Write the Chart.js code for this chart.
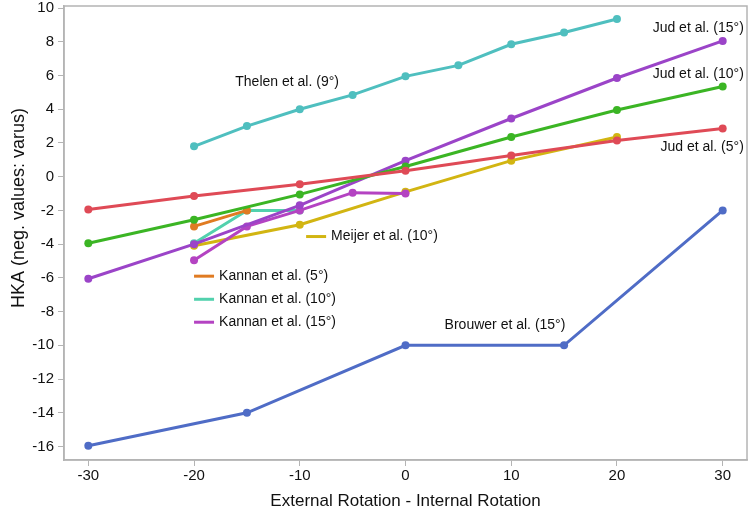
<!DOCTYPE html>
<html>
<head>
<meta charset="utf-8">
<script src="https://cdn.jsdelivr.net/npm/chart.js@4.4.1/dist/chart.umd.min.js"></script>
<style>
  html, body { margin: 0; padding: 0; background: #fff; }
  #wrap { width: 751px; height: 512px; }
</style>
</head>
<body>
<div id="wrap"><canvas id="hka"></canvas></div>
<script>
// ===== HKA vs rotation =====
var thelenX = [-20, -15, -10, -5, 0, 5, 10, 15, 20];
var thelenY = [1.8, 3.0, 4.0, 4.85, 5.95, 6.6, 7.85, 8.55, 9.35];
var judX    = [-30, -20, -10, 0, 10, 20, 30];
var jud15Y  = [-6.05, -4.0, -1.7, 0.95, 3.45, 5.85, 8.05];
var jud10Y  = [-3.95, -2.55, -1.05, 0.6, 2.35, 3.95, 5.35];
var jud5Y   = [-1.95, -1.15, -0.45, 0.35, 1.25, 2.15, 2.85];
var meijerX = [-20, -10, 0, 10, 20];
var meijerY = [-4.1, -2.85, -0.9, 0.95, 2.35];
var kan5X   = [-20, -15];
var kan5Y   = [-2.95, -2.0];
var kan10X  = [-20, -15, -10];
var kan10Y  = [-3.95, -2.0, -2.0];
var kan15X  = [-20, -15, -10, -5, 0];
var kan15Y  = [-4.95, -2.95, -2.0, -0.95, -1.0];
var brouwerX = [-30, -15, 0, 15, 30];
var brouwerY = [-15.95, -14.0, -10.0, -10.0, -2.0];
var xTicks = [-30, -20, -10, 0, 10, 20, 30];
var yTicks = [-16, -14, -12, -10, -8, -6, -4, -2, 0, 2, 4, 6, 8, 10];

function pts(xs, ys) { return xs.map(function(x, i) { return { x: x, y: ys[i] }; }); }
function series(label, xs, ys, color) {
  return { label: label, data: pts(xs, ys), borderColor: color, backgroundColor: color,
    borderWidth: 3, pointRadius: 4, pointHoverRadius: 4, pointBorderWidth: 0, tension: 0, fill: false };
}

var FONT = "'Liberation Sans', Arial, Helvetica, sans-serif";

// text labels in data units; swatch = draw a short line before the text
var notes = [
  { text: 'Thelen et al. (9°)',   x: -16.1, y: 5.6,  align: 'left' },
  { text: 'Jud et al. (15°)',     x: 32.0,  y: 8.8,  align: 'right' },
  { text: 'Jud et al. (10°)',     x: 32.0,  y: 6.1,  align: 'right' },
  { text: 'Jud et al. (5°)',      x: 32.0,  y: 1.75, align: 'right' },
  { text: 'Brouwer et al. (15°)', x: 3.7,   y: -8.8, align: 'left' },
  { text: 'Meijer et al. (10°)',  x: -9.4,  y: -3.55, align: 'left', swatch: '#d2b512' },
  { text: 'Kannan et al. (5°)',   x: -20.0, y: -5.9, align: 'left', swatch: '#e07b22' },
  { text: 'Kannan et al. (10°)',  x: -20.0, y: -7.27, align: 'left', swatch: '#52d1ad' },
  { text: 'Kannan et al. (15°)',  x: -20.0, y: -8.63, align: 'left', swatch: '#b443c2' }
];

var notesPlugin = {
  id: 'notes',
  afterDatasetsDraw: function(chart) {
    var c = chart.ctx, xs = chart.scales.x, ys = chart.scales.y, a = chart.chartArea;
    c.save();
    // frame round the plot
    c.strokeStyle = '#b4b4b4'; c.lineWidth = 1.5;
    c.strokeRect(a.left, a.top, a.right - a.left, a.bottom - a.top);
    c.font = '14px ' + FONT; c.fillStyle = '#111'; c.textBaseline = 'middle';
    notes.forEach(function(n) {
      var px = xs.getPixelForValue(n.x), py = ys.getPixelForValue(n.y);
      if (n.swatch) {
        c.strokeStyle = n.swatch; c.lineWidth = 3;
        c.beginPath(); c.moveTo(px, py); c.lineTo(px + 20, py); c.stroke();
        px += 25;
      }
      c.textAlign = n.align;
      c.fillText(n.text, px, py);
    });
    // y axis title, sits a little above the middle as in the source figure
    c.translate(19, a.top + (a.bottom - a.top) * 0.445);
    c.rotate(-Math.PI / 2);
    c.font = '18px ' + FONT; c.textAlign = 'center';
    c.fillText('HKA (neg. values: varus)', 0, 0);
    c.restore();
  }
};

new Chart(document.getElementById('hka').getContext('2d'), {
  type: 'line',
  data: { datasets: [
    series('Brouwer et al. (15°)', brouwerX, brouwerY, '#4f6cc6'),
    series('Jud et al. (5°)',  judX, jud5Y,  '#df4a56'),
    series('Jud et al. (10°)', judX, jud10Y, '#3bb524'),
    series('Jud et al. (15°)', judX, jud15Y, '#9b44c8'),
    series('Thelen et al. (9°)', thelenX, thelenY, '#4fbfbf'),
    series('Kannan et al. (5°)',  kan5X,  kan5Y,  '#e07b22'),
    series('Kannan et al. (15°)', kan15X, kan15Y, '#b443c2'),
    series('Kannan et al. (10°)', kan10X, kan10Y, '#52d1ad'),
    series('Meijer et al. (10°)', meijerX, meijerY, '#d2b512')
  ]},
  options: {
    responsive: true, maintainAspectRatio: false, animation: false,
    layout: { padding: { top: 6, right: 2, bottom: 0, left: 0 } },
    plugins: { legend: { display: false }, tooltip: { enabled: false } },
    scales: {
      x: { type: 'linear', min: -32.3, max: 32.3,
        afterBuildTicks: function(ax) { ax.ticks = xTicks.map(function(v) { return { value: v }; }); },
        afterFit: function(ax) { ax.height = 52; ax.paddingLeft = 0; ax.paddingRight = 0; },
        grid: { drawOnChartArea: false, drawTicks: true, tickLength: 6, color: '#b4b4b4' },
        border: { color: '#b4b4b4', width: 1.5 },
        ticks: { font: { family: FONT, size: 15 }, color: '#111', padding: 1, maxRotation: 0 },
        title: { display: true, text: 'External Rotation - Internal Rotation', font: { family: FONT, size: 17 }, color: '#111', padding: { top: 0, bottom: 0 } } },
      y: { type: 'linear', min: -16.8, max: 10.12,
        afterBuildTicks: function(ax) { ax.ticks = yTicks.map(function(v) { return { value: v }; }); },
        afterFit: function(ax) { ax.width = 64; ax.paddingTop = 0; ax.paddingBottom = 0; },
        grid: { drawOnChartArea: false, drawTicks: true, tickLength: 6, color: '#b4b4b4' },
        border: { color: '#b4b4b4', width: 1.5 },
        ticks: { font: { family: FONT, size: 15 }, color: '#111', padding: 4 } }
    }
  },
  plugins: [notesPlugin]
});
</script>
</body>
</html>
